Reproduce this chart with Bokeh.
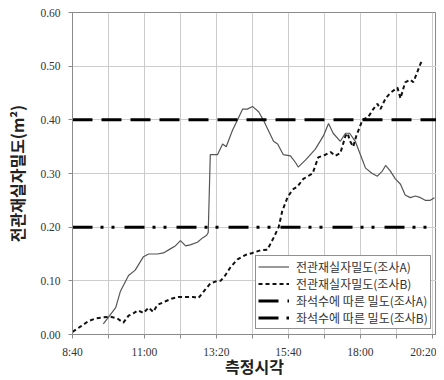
from bokeh.plotting import figure
from bokeh.models import FixedTicker, Legend, LegendItem, Range1d
from bokeh.embed import file_html
from bokeh.resources import INLINE

# time in minutes since midnight
time_a = [580, 604, 613, 629, 642, 658, 668, 685, 697, 711, 720, 730, 740, 749, 763,
          773, 781, 784, 788, 802, 812, 819, 831, 841, 851, 860, 870, 882, 891, 901,
          911, 919, 930, 944, 954, 959, 973, 992, 1008, 1018, 1027, 1041, 1051, 1059,
          1070, 1080, 1090, 1103, 1113, 1123, 1129, 1138, 1148, 1158, 1167, 1177, 1187,
          1197, 1206, 1216, 1224]
dens_a = [0.020, 0.050, 0.080, 0.110, 0.120, 0.145, 0.150, 0.150, 0.152, 0.160, 0.165,
          0.175, 0.165, 0.167, 0.172, 0.180, 0.185, 0.190, 0.335, 0.335, 0.355, 0.350,
          0.380, 0.400, 0.420, 0.420, 0.425, 0.415, 0.400, 0.380, 0.360, 0.355, 0.335,
          0.333, 0.320, 0.312, 0.325, 0.345, 0.370, 0.393, 0.375, 0.360, 0.375, 0.375,
          0.360, 0.335, 0.310, 0.300, 0.295, 0.305, 0.315, 0.305, 0.290, 0.280, 0.260,
          0.255, 0.258, 0.255, 0.250, 0.250, 0.255]

time_b = [520, 536, 551, 565, 580, 594, 607, 619, 629, 639, 648, 658, 668, 677, 685,
          701, 714, 726, 740, 755, 765, 775, 788, 802, 808, 817, 827, 841, 856, 870,
          886, 899, 911, 921, 928, 938, 948, 957, 969, 987, 998, 1012, 1022, 1031, 1041,
          1051, 1055, 1060, 1066, 1072, 1084, 1095, 1105, 1113, 1119, 1129, 1138, 1152,
          1158, 1167, 1177, 1183, 1191, 1197, 1200]
dens_b = [0.005, 0.015, 0.025, 0.030, 0.032, 0.033, 0.030, 0.022, 0.035, 0.040, 0.045,
          0.040, 0.050, 0.042, 0.055, 0.062, 0.067, 0.070, 0.070, 0.070, 0.068, 0.080,
          0.095, 0.100, 0.100, 0.110, 0.125, 0.140, 0.148, 0.152, 0.157, 0.158, 0.180,
          0.200, 0.230, 0.255, 0.270, 0.275, 0.290, 0.300, 0.330, 0.335, 0.340, 0.333,
          0.338, 0.370, 0.375, 0.360, 0.350, 0.370, 0.400, 0.405, 0.420, 0.430, 0.420,
          0.440, 0.450, 0.460, 0.440, 0.470, 0.475, 0.470, 0.490, 0.505, 0.510]

seat_a = 0.40
seat_b = 0.20

x_ticks = [520, 590, 660, 730, 800, 870, 940, 1010, 1080, 1150, 1220]
x_labels = ["8:40", "", "11:00", "", "13:20", "", "15:40", "", "18:00", "", "20:20"]
y_ticks = [0.0, 0.1, 0.2, 0.3, 0.4, 0.5, 0.6]
y_labels = ["0.00", "0.10", "0.20", "0.30", "0.40", "0.50", "0.60"]

names = ["전관재실자밀도(조사A)", "전관재실자밀도(조사B)",
         "좌석수에 따른 밀도(조사A)", "좌석수에 따른 밀도(조사B)"]

x_min, x_max = 520, 1228

p = figure(width=436, height=380, output_backend="svg", toolbar_location=None,
           x_range=Range1d(x_min, x_max), y_range=Range1d(0, 0.6),
           min_border_left=72, min_border_right=0, min_border_top=12, min_border_bottom=45)

p.outline_line_color = "#8a8a8a"
p.outline_line_width = 1
p.background_fill_color = "white"
p.border_fill_color = "white"

p.xgrid.grid_line_color = "#cccccc"
p.ygrid.grid_line_color = "#cccccc"
p.xgrid.grid_line_width = 1
p.ygrid.grid_line_width = 1

p.xaxis.ticker = FixedTicker(ticks=x_ticks)
p.xaxis.major_label_overrides = {t: l for t, l in zip(x_ticks, x_labels)}
p.yaxis.ticker = FixedTicker(ticks=y_ticks)
p.yaxis.major_label_overrides = {t: l for t, l in zip(y_ticks, y_labels)}

for ax in (p.xaxis, p.yaxis):
    ax.axis_line_color = "#8a8a8a"
    ax.major_tick_line_color = "#8a8a8a"
    ax.major_tick_out = 4
    ax.major_tick_in = 0
    ax.minor_tick_line_color = None
    ax.major_label_text_font = "Liberation Serif"
    ax.major_label_text_font_size = "11.5px"
    ax.major_label_text_color = "#333333"
    ax.axis_label_text_font = "Noto Sans CJK KR"
    ax.axis_label_text_font_style = "bold"
    ax.axis_label_text_color = "#222222"

p.yaxis.major_label_standoff = 8
p.xaxis.major_label_standoff = 7
p.yaxis.axis_label = "전관재실자밀도(m²)"
p.yaxis.axis_label_text_font_size = "16px"
p.yaxis.axis_label_standoff = 8
p.xaxis.axis_label = "측정시각"
p.xaxis.axis_label_text_font_size = "16px"
p.xaxis.axis_label_standoff = -7

r_a = p.line(time_a, dens_a, line_color="#555555", line_width=1.2)
r_b = p.line(time_b, dens_b, line_color="#111111", line_width=2, line_dash="4 3")
r_sa = p.line([x_min, x_max], [seat_a, seat_a], line_color="black", line_width=3,
              line_dash="20 9")
r_sb = p.line([x_min, x_max], [seat_b, seat_b], line_color="black", line_width=3,
              line_dash="20 8 3 8 3 10")

legend = Legend(items=[LegendItem(label=n, renderers=[r]) for n, r in
                       zip(names, [r_a, r_b, r_sa, r_sb])],
                location=(183, 5))
legend.label_text_font = "Noto Sans CJK KR"
legend.label_text_font_size = "12px"
legend.label_text_color = "#333333"
legend.border_line_color = "#222222"
legend.border_line_width = 1
legend.background_fill_alpha = 1
legend.padding = 2
legend.spacing = 0
legend.margin = 0
legend.glyph_width = 31
legend.glyph_height = 17
legend.label_height = 17
legend.label_standoff = 7
p.add_layout(legend, "center")

open("out.html", "w").write(file_html(p, INLINE))
